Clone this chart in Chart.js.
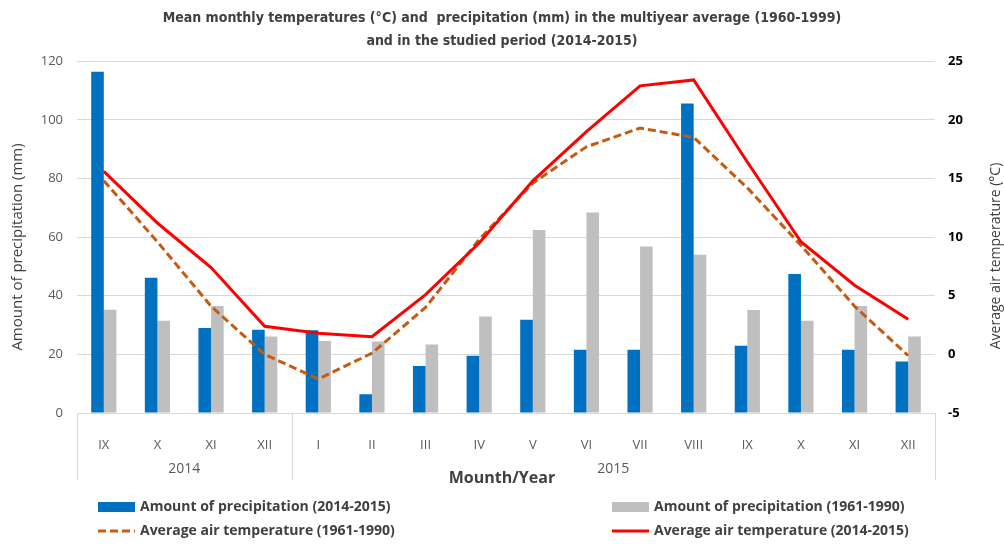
<!DOCTYPE html>
<html>
<head>
<meta charset="utf-8">
<script src="https://cdn.jsdelivr.net/npm/chart.js@4.4.1/dist/chart.umd.min.js"></script>
<style>
html, body { margin:0; padding:0; background:#fff; }
#box { width:1004px; height:544px; }
</style>
</head>
<body>
<div id="box">
    <canvas id="climateChart" width="1004" height="544"></canvas>
</div>
<script>

let months = ['IX','X','XI','XII','I','II','III','IV','V','VI','VII','VIII','IX','X','XI','XII']

let years = ['2014','2015']
let yearSpans = [4, 12]

// mm
let precipStudied = [116.4, 46.1, 29.0, 28.4, 28.2, 6.4, 16.0, 19.5, 31.8, 21.6, 21.6, 105.6, 22.9, 47.4, 21.6, 17.6]
let precipNormal = [35.2, 31.5, 36.5, 26.1, 24.6, 24.4, 23.4, 32.9, 62.4, 68.4, 56.8, 54.0, 35.1, 31.5, 36.5, 26.1]

// deg C
let tempNormal = [14.8, 9.6, 4.1, 0.0, -2.1, 0.1, 4.0, 9.8, 14.6, 17.7, 19.3, 18.5, 14.2, 9.3, 4.1, -0.1]
let tempStudied = [15.6, 11.2, 7.4, 2.4, 1.8, 1.5, 5.1, 9.5, 14.8, 19.0, 22.9, 23.4, 16.4, 9.6, 5.9, 3.0]

let titleLines = [
    'Mean monthly temperatures (\u00B0C) and  precipitation (mm) in the multiyear average (1960-1999)',
    'and in the studied period (2014-2015)'
]

let textFont = "'Open Sans', 'DejaVu Sans', sans-serif"
let gridColor = '#d9d9d9'

let extras = {
    id: 'extras',
    afterDraw(chart){

        let ctx = chart.ctx
        let x = chart.scales.x
        let half = (x.getPixelForValue(1) - x.getPixelForValue(0)) / 2
        let lineBottom = x.bottom

        ctx.save()

        // year groups under the month ticks
        ctx.strokeStyle = gridColor
        ctx.lineWidth = 1
        ctx.fillStyle = '#595959'
        ctx.font = '14px ' + textFont
        ctx.textAlign = 'center'
        ctx.textBaseline = 'middle'

        let start = 0
        let left0 = Math.round(x.getPixelForValue(0) - half) + 0.5
        ctx.beginPath()
        ctx.moveTo(left0, x.top)
        ctx.lineTo(left0, lineBottom)
        ctx.stroke()

        years.forEach((yr, i) => {
            let end = start + yearSpans[i] - 1
            let l = x.getPixelForValue(start) - half
            let r = x.getPixelForValue(end) + half
            let rx = Math.round(r) + 0.5
            ctx.beginPath()
            ctx.moveTo(rx, x.top)
            ctx.lineTo(rx, lineBottom)
            ctx.stroke()
            ctx.fillText(yr, (l + r) / 2, 469)
            start += yearSpans[i]
        })

        // axis titles
        ctx.fillStyle = '#404040'
        ctx.font = 'bold 16px ' + textFont
        ctx.fillText('Mounth/Year', 502, 478)

        ctx.font = '15px ' + textFont
        ctx.save()
        ctx.translate(18, 247)
        ctx.rotate(-Math.PI / 2)
        ctx.fillText('Amount of precipitation (mm)', 0, 0)
        ctx.restore()

        ctx.font = '14px ' + textFont
        ctx.save()
        ctx.translate(996, 256)
        ctx.rotate(-Math.PI / 2)
        ctx.fillText('Average air temperature (\u00B0C)', 0, 0)
        ctx.restore()

        // legend, 2 x 2
        let cols = [98, 612]
        let rows = [507, 531]
        ctx.textAlign = 'left'
        ctx.font = 'bold 14px ' + textFont

        chart.data.datasets.forEach((ds, i) => {
            let bx = cols[i % 2]
            let by = rows[Math.floor(i / 2)]
            if(ds.type === 'bar'){
                ctx.fillStyle = ds.backgroundColor
                ctx.fillRect(bx, by - 5, 37, 10)
            }else{
                ctx.strokeStyle = ds.borderColor
                ctx.lineWidth = ds.borderWidth
                ctx.setLineDash(ds.borderDash || [])
                ctx.beginPath()
                ctx.moveTo(bx, by)
                ctx.lineTo(bx + 37, by)
                ctx.stroke()
                ctx.setLineDash([])
            }
            ctx.fillStyle = '#404040'
            ctx.fillText(ds.label, bx + 42, by)
        })

        ctx.restore()
    }
}

let climateChart =
new Chart(
    document.getElementById('climateChart'),
    {
        type: 'bar',
        data: {
            labels: months,
            datasets: [
                {
                    type: 'bar',
                    label: 'Amount of precipitation (2014-2015)',
                    data: precipStudied,
                    backgroundColor: '#0070c0',
                    yAxisID: 'y',
                    order: 2,
                    categoryPercentage: 0.47,
                    barPercentage: 1
                },
                {
                    type: 'bar',
                    label: 'Amount of precipitation (1961-1990)',
                    data: precipNormal,
                    backgroundColor: '#bfbfbf',
                    yAxisID: 'y',
                    order: 2,
                    categoryPercentage: 0.47,
                    barPercentage: 1
                },
                {
                    type: 'line',
                    label: 'Average air temperature (1961-1990)',
                    data: tempNormal,
                    borderColor: '#c55a11',
                    backgroundColor: '#c55a11',
                    borderWidth: 3,
                    borderDash: [8, 4],
                    pointRadius: 0,
                    tension: 0,
                    fill: false,
                    yAxisID: 'y1',
                    order: 1
                },
                {
                    type: 'line',
                    label: 'Average air temperature (2014-2015)',
                    data: tempStudied,
                    borderColor: '#ff0000',
                    backgroundColor: '#ff0000',
                    borderWidth: 3,
                    pointRadius: 0,
                    tension: 0,
                    fill: false,
                    yAxisID: 'y1',
                    order: 0
                }
            ]
        },
        options: {
            responsive: false,
            devicePixelRatio: 1,
            animation: false,
            layout: {
                padding: { left: 0, right: 0, top: 0, bottom: 64 }
            },
            plugins: {
                legend: { display: false },
                tooltip: { enabled: false },
                title: {
                    display: true,
                    text: titleLines,
                    color: '#404040',
                    font: {
                        family: "'DejaVu Sans Condensed', 'Liberation Sans Narrow', sans-serif",
                        size: 14,
                        weight: 'bold',
                        lineHeight: 1.65
                    },
                    padding: { top: 7, bottom: 8 }
                }
            },
            scales: {
                x: {
                    offset: true,
                    grid: { display: false },
                    border: { display: true, color: gridColor },
                    ticks: {
                        color: '#595959',
                        font: { family: textFont, size: 13 },
                        padding: 16,
                        maxRotation: 0,
                        autoSkip: false
                    },
                    afterFit: s => { s.height = 67 }
                },
                y: {
                    position: 'left',
                    min: 0,
                    max: 120,
                    grid: { color: gridColor, drawTicks: false },
                    border: { display: false },
                    ticks: {
                        stepSize: 20,
                        color: '#595959',
                        font: { family: textFont, size: 13 },
                        padding: 14
                    },
                    afterFit: s => { s.width = 77 }
                },
                y1: {
                    position: 'right',
                    min: -5,
                    max: 25,
                    grid: { drawOnChartArea: false, drawTicks: false },
                    border: { display: false },
                    ticks: {
                        stepSize: 5,
                        color: '#000000',
                        font: { family: textFont, size: 13, weight: 'bold' },
                        padding: 13
                    },
                    afterFit: s => { s.width = 69 }
                }
            }
        },
        plugins: [extras]
    }
)

</script>
</body>
</html>
